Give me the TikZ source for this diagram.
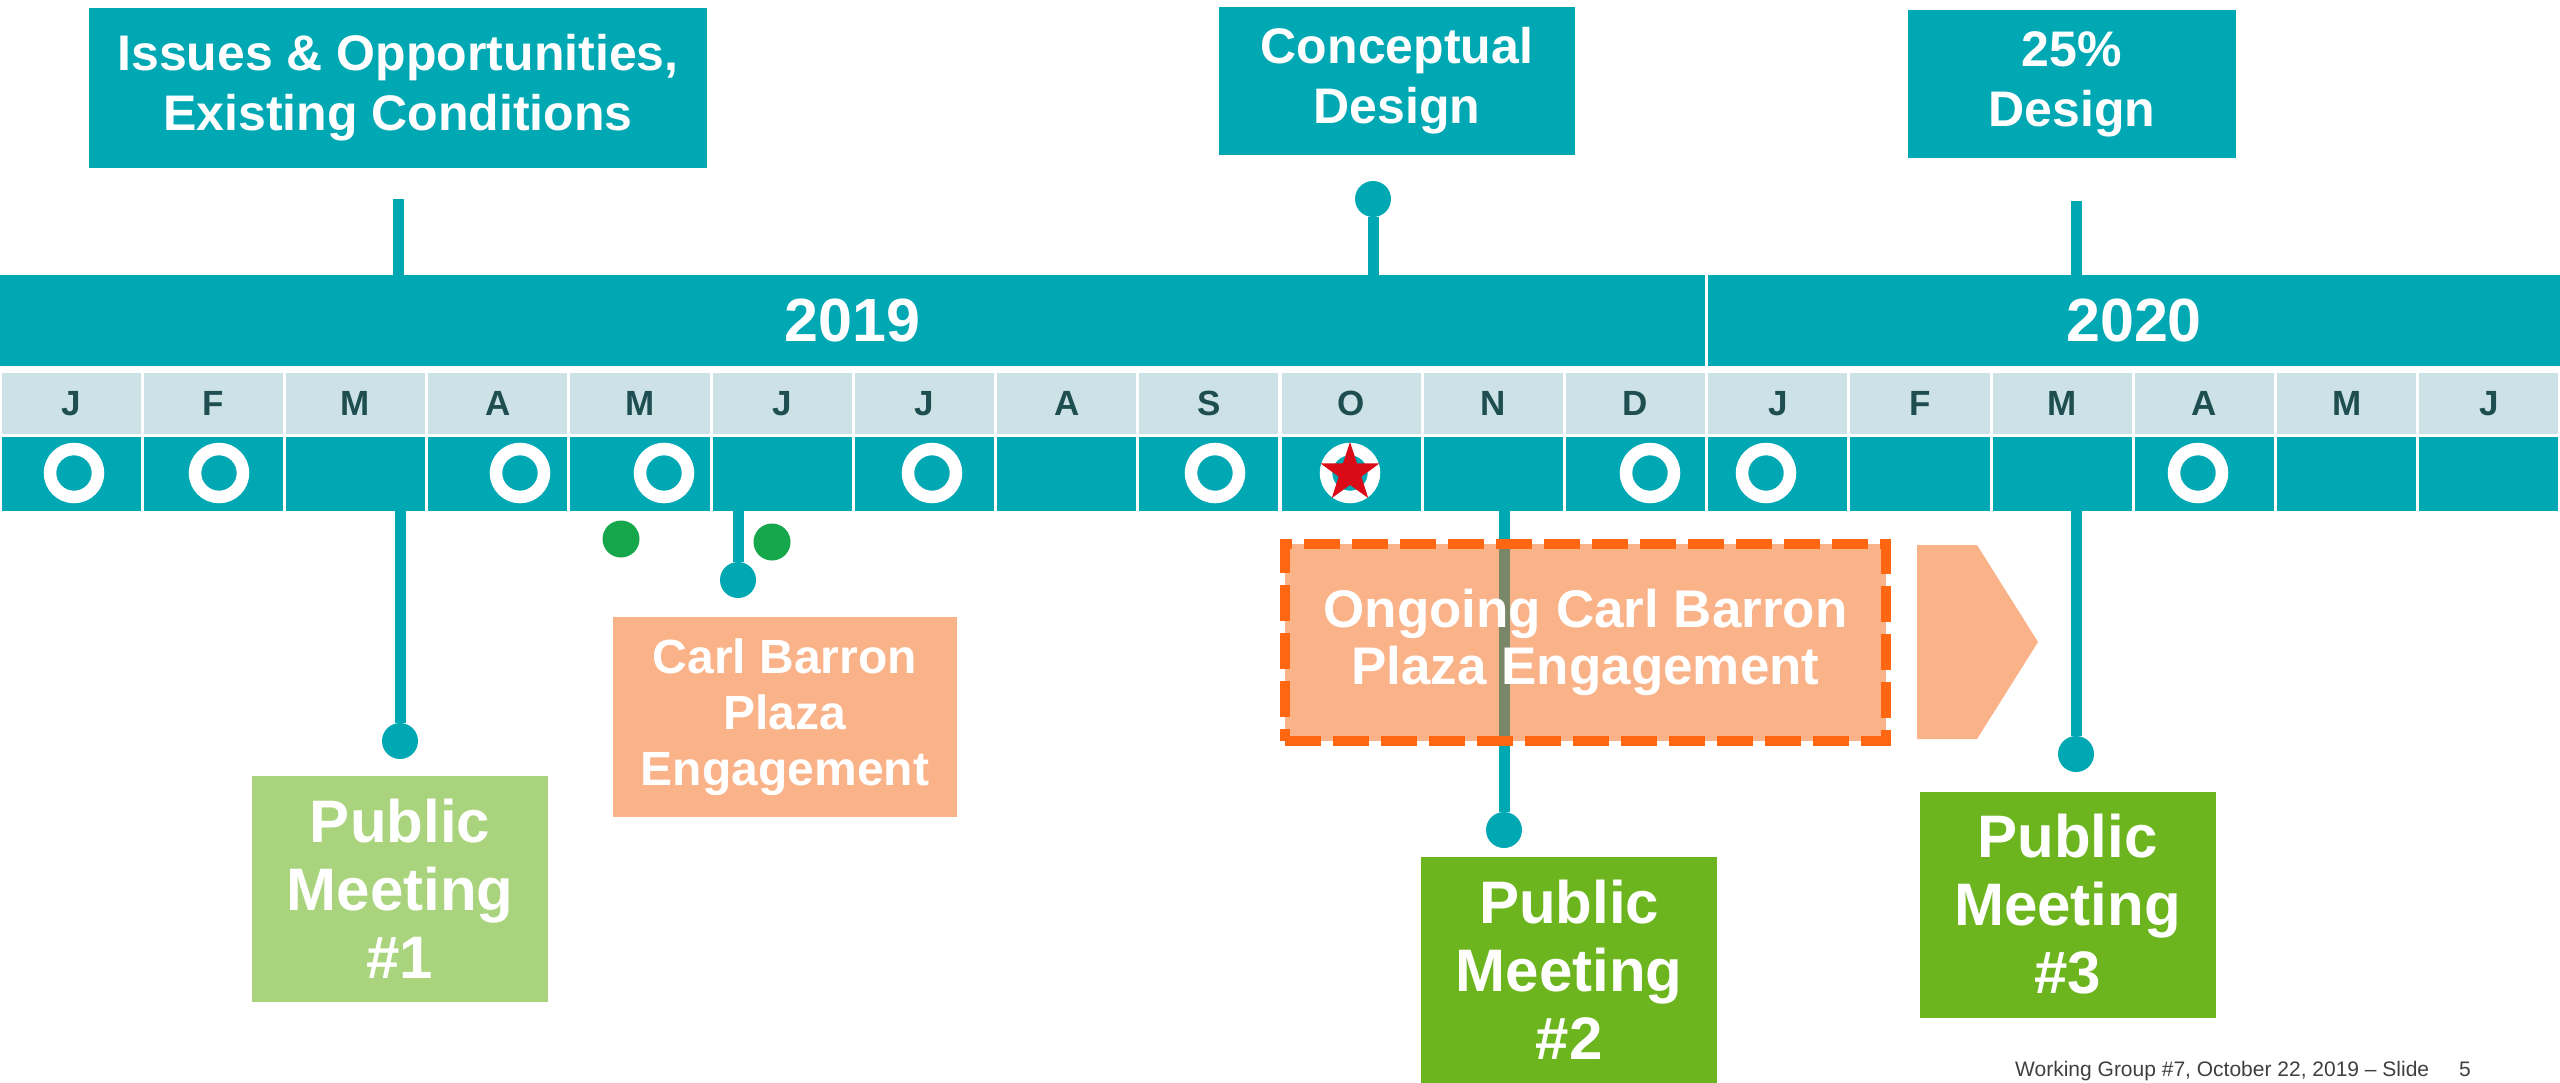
\documentclass[tikz,border=0pt]{standalone}
\usepackage{fontspec}
\setmainfont{Liberation Sans}
\usetikzlibrary{shapes.geometric}
\pgfdeclarelayer{background}
\pgfsetlayers{background,main}
\begin{document}
\begin{tikzpicture}[x=1pt,y=-1pt,
  topbox/.style={fill=custcol_teal, text=white, align=center, inner sep=0, font=\bfseries\fontsize{50}{60}\selectfont},
  yearbar/.style={fill=custcol_teal, text=white, inner sep=0, minimum height=91, font=\bfseries\fontsize{61}{61}\selectfont},
  monthcell/.style={fill=custcol_band, text=custcol_month, inner sep=0, minimum width=139.2, minimum height=61, font=\bfseries\fontsize{35}{35}\selectfont},
  dotcell/.style={fill=custcol_teal, inner sep=0, minimum width=139.2, minimum height=74},
  ring/.style={circle, draw=white, line width=12.5, minimum size=48, inner sep=0},
  stem/.style={draw=custcol_teal, line width=11},
  stemdot/.style={circle, fill=custcol_teal, minimum size=36, inner sep=0},
  greendot/.style={circle, fill=custcol_dot, minimum size=37, inner sep=0},
  meeting/.style={text=white, align=center, inner sep=0, minimum width=296, minimum height=226, font=\bfseries\fontsize{60}{68}\selectfont},
  plaza/.style={fill=custcol_orange, text=white, align=center, inner sep=0, font=\bfseries\fontsize{48}{56}\selectfont}]
\definecolor{custcol_teal}{RGB}{0, 168, 180}
\definecolor{custcol_band}{RGB}{204, 226, 230}
\definecolor{custcol_month}{RGB}{30, 78, 80}
\definecolor{custcol_pale}{RGB}{169, 211, 124}
\definecolor{custcol_green}{RGB}{108, 181, 30}
\definecolor{custcol_orange}{RGB}{250, 178, 136}
\definecolor{custcol_dash}{RGB}{255, 102, 18}
\definecolor{custcol_dot}{RGB}{22, 166, 76}
\definecolor{custcol_star}{RGB}{218, 10, 22}
\definecolor{custcol_under}{RGB}{122, 134, 104}
\definecolor{custcol_foot}{RGB}{64, 64, 64}
\useasboundingbox (0,0) rectangle (2560,1082);
% timeline
\node[yearbar, minimum width=1705] (y2019) at (852.5,320.5) {2019};
\node[yearbar, minimum width=852] (y2020) at (2134,320.5) {2020};
\foreach \m [count=\i from 0] in {J,F,M,A,M,J,J,A,S,O,N,D,J,F,M,A,M,J} {
  \node[monthcell] (m\i) at ({71.11+142.22*\i},403.5) {\m};
  \node[dotcell] (d\i) at ({71.11+142.22*\i},474) {};
}
\foreach \x [count=\k] in {74,219,520,664,932,1215,1350,1650,1766,2198}
  \node[ring] (ring\k) at (\x,473) {};
\node[star, star points=5, star point ratio=2.6, fill=custcol_star, minimum size=62, inner sep=0] (octstar) at (ring7) {};
% phases above
\node[topbox, minimum width=618, minimum height=160] (issues) at (398,88) {Issues \& Opportunities,\\Existing Conditions};
\node[topbox, minimum width=356, minimum height=148] (concept) at (1397,81) {Conceptual\\Design};
\node[topbox, minimum width=328, minimum height=148] (design) at (2072,84) {25\%\\Design};
\coordinate (issuesfoot) at (398,199);
\draw[stem] (issuesfoot) -- (issuesfoot |- y2019.north);
\node[stemdot] (concdot) at (1373,199) {};
\draw[stem] (concdot) -- (concdot |- y2019.north);
\coordinate (designfoot) at (2076,201);
\draw[stem] (designfoot) -- (designfoot |- y2020.north);
% meetings below
\node[stemdot] (pm1dot) at (400,741) {};
\draw[stem] (pm1dot |- d2.south) -- (pm1dot);
\node[stemdot] (carldot) at (738,580) {};
\draw[stem] (carldot |- d5.south) -- (carldot);
\node[stemdot] (pm2dot) at (1504,830) {};
\node[stemdot] (pm3dot) at (2076,754) {};
\draw[stem] (pm3dot |- d14.south) -- (pm3dot);
\node[greendot] (gdot1) at (621,539) {};
\node[greendot] (gdot2) at (772,542) {};
\node[meeting, fill=custcol_pale] (pm1) at (400,889) {Public\\Meeting\\\#1};
\node[meeting, fill=custcol_green] (pm2) at (1569,969.5) {Public\\Meeting\\\#2};
\node[meeting, fill=custcol_green] (pm3) at (2067.5,904.5) {Public\\Meeting\\\#3};
\node[plaza, minimum width=344, minimum height=200] (carl) at (785,717) {Carl Barron\\Plaza\\Engagement};
\node[draw=custcol_dash, line width=10, dash pattern=on 36 off 12, text=white, align=center, inner sep=0, minimum width=601, minimum height=197, font=\bfseries\fontsize{53}{57}\selectfont] (ongoing) at (1585.5,642.5) {Ongoing Carl Barron\\Plaza Engagement};
\begin{pgfonlayer}{background}
\fill[white] (0,0) rectangle (2560,1082);
\draw[stem] (pm2dot |- d10.south) -- (pm2dot);
\fill[custcol_orange] ([shift={(5,-5)}]ongoing.south west) rectangle ([shift={(-5,5)}]ongoing.north east);
\draw[stem, draw=custcol_under] (pm2dot |- ongoing.north) -- (pm2dot |- ongoing.south);
\end{pgfonlayer}
\fill[custcol_orange] (1917,545) -- (1977,545) -- (2038,642) -- (1977,739) -- (1917,739) -- cycle;
\node[anchor=base west, inner sep=0, text=custcol_foot, font=\fontsize{21}{21}\selectfont] (footer) at (2015,1076) {Working Group \#7, October 22, 2019 – Slide\hspace{30pt}5};
\end{tikzpicture}
\end{document}
